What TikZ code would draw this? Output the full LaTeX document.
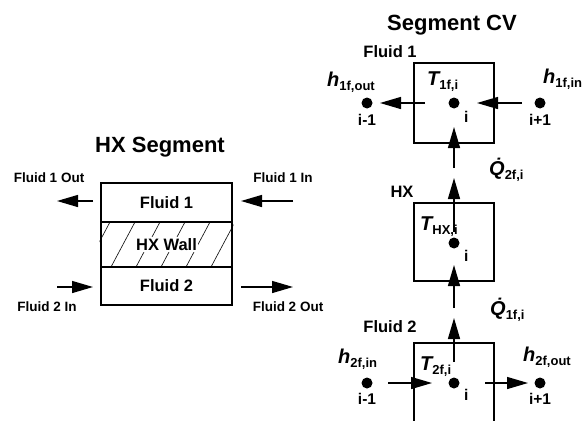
\documentclass[tikz,border=0pt]{standalone}
\usepackage{fontspec}
\setmainfont{Liberation Sans}
\usetikzlibrary{arrows.meta,positioning}

\newcommand{\cvsym}[2]{{\itshape #1}\raisebox{-4pt}{\fontsize{13}{14}\selectfont #2}}

\begin{document}
\begin{tikzpicture}[x=1pt,y=-1pt,
    box/.style={draw,line width=2.6pt,minimum width=131pt,inner sep=0pt},
    cv/.style={draw,line width=2.6pt,minimum width=80pt,minimum height=80pt},
    ptdot/.style={circle,fill,inner sep=0pt,minimum size=11pt},
    flow/.style={-{Triangle[length=21pt,width=12pt]},line width=1.4pt},
    title/.style={font=\bfseries\fontsize{22}{24}\selectfont},
    lbl/.style={font=\bfseries\fontsize{16.5}{18}\selectfont},
    flowlbl/.style={font=\bfseries\fontsize{13.5}{15}\selectfont},
    idx/.style={font=\bfseries\fontsize{15.5}{17}\selectfont,inner sep=0pt},
    sym/.style={font=\bfseries\fontsize{20}{22}\selectfont,inner sep=0pt}
]
    \useasboundingbox (0,0) rectangle (583,420);

    % HX segment
    \node[title,anchor=base] (hxtitle) at (160,152) {HX Segment};
    \node[box,minimum height=39pt] (f1) at (166.5,202.5) {};
    \node[box,minimum height=45pt] (wall) at (166.5,244.5) {};
    \node[box,minimum height=38pt] (f2) at (166.5,286) {};
    \begin{scope}
        \clip (wall.south west) rectangle (wall.north east);
        \foreach \x in {86,111,...,236}
            \draw[line width=0.6pt] (\x,267) -- ++(24,-45);
    \end{scope}
    \node[lbl] (f1txt) at (f1) {Fluid 1};
    \node[lbl,fill=white,inner sep=1.5pt] (walltxt) at (wall) {HX Wall};
    \node[lbl] (f2txt) at (f2) {Fluid 2};

    \node[flowlbl] (f1out) at (49,178) {Fluid 1 Out};
    \node[flowlbl] (f1in) at (283,178) {Fluid 1 In};
    \node[flowlbl] (f2in) at (47,307) {Fluid 2 In};
    \node[flowlbl] (f2out) at (288,307) {Fluid 2 Out};

    \coordinate (a1) at (93,201);  \coordinate (a2) at (57,201);
    \coordinate (b1) at (293,201); \coordinate (b2) at (241,201);
    \coordinate (c1) at (57,287);  \coordinate (c2) at (93,287);
    \coordinate (d1) at (241,287); \coordinate (d2) at (293,287);
    \draw[flow] (a1) -- (a2);
    \draw[flow] (b1) -- (b2);
    \draw[flow] (c1) -- (c2);
    \draw[flow] (d1) -- (d2);

    % segment CV
    \node[title,anchor=base] (cvtitle) at (452,31) {Segment CV};
    \node[lbl] (fl1) at (390,52) {Fluid 1};
    \node[lbl] (hxl) at (402,192) {HX};
    \node[lbl] (fl2) at (390,327) {Fluid 2};

    \node[cv] (cv1) at (454,103) {};
    \node[cv,minimum height=78pt] (cvhx) at (454,242) {};
    \node[cv] (cv2) at (454,383) {};

    \node[ptdot] (p1) at (454,103) {};
    \node[ptdot] (p1l) at (367,103) {};
    \node[ptdot] (p1r) at (540,103) {};
    \node[ptdot] (phx) at (454,243) {};
    \node[ptdot] (p2) at (454,383) {};
    \node[ptdot] (p2l) at (367,383) {};
    \node[ptdot] (p2r) at (540,383) {};

    \node[idx,below right=4pt and 6pt of p1] (i1) {i};
    \node[idx,below=5pt of p1l] (i1l) {i-1};
    \node[idx,below=5pt of p1r] (i1r) {i+1};
    \node[idx,below right=3pt and 6pt of phx] (ihx) {i};
    \node[idx,below right=2pt and 6pt of p2] (i2) {i};
    \node[idx,below=4pt of p2l] (i2l) {i-1};
    \node[idx,below=4pt of p2r] (i2r) {i+1};

    \node[sym,anchor=base west] (t1) at (427,85) {\cvsym{T}{1f,i}};
    \node[sym,anchor=base west] (h1out) at (327,86) {\cvsym{h}{1f,out}};
    \node[sym,anchor=base west] (h1in) at (543,83) {\cvsym{h}{1f,in}};
    \node[sym,anchor=base west] (q2) at (489,175) {\cvsym{\.{Q}}{2f,i}};
    \node[sym,anchor=base west] (thx) at (420,230) {\cvsym{T}{HX,i}};
    \node[sym,anchor=base west] (q1) at (490,315) {\cvsym{\.{Q}}{1f,i}};
    \node[sym,anchor=base west] (t2) at (420,370) {\cvsym{T}{2f,i}};
    \node[sym,anchor=base west] (h2in) at (338,363) {\cvsym{h}{2f,in}};
    \node[sym,anchor=base west] (h2out) at (523,361) {\cvsym{h}{2f,out}};

    \coordinate (e1) at (425,103); \coordinate (e2) at (380,103);
    \coordinate (g1) at (522,103); \coordinate (g2) at (477,103);
    \coordinate (k1) at (454,168); \coordinate (k2) at (454,127);
    \coordinate (m1) at (454,232); \coordinate (m2) at (454,178);
    \coordinate (n1) at (454,308); \coordinate (n2) at (454,265);
    \coordinate (r1) at (454,362); \coordinate (r2) at (454,318);
    \coordinate (s1) at (388,383); \coordinate (s2) at (432,383);
    \coordinate (u1) at (485,383); \coordinate (u2) at (528,383);
    \draw[flow] (e1) -- (e2);
    \draw[flow] (g1) -- (g2);
    \draw[flow] (k1) -- (k2);
    \draw[flow] (m1) -- (m2);
    \draw[flow] (n1) -- (n2);
    \draw[flow] (r1) -- (r2);
    \draw[flow] (s1) -- (s2);
    \draw[flow] (u1) -- (u2);
\end{tikzpicture}
\end{document}
